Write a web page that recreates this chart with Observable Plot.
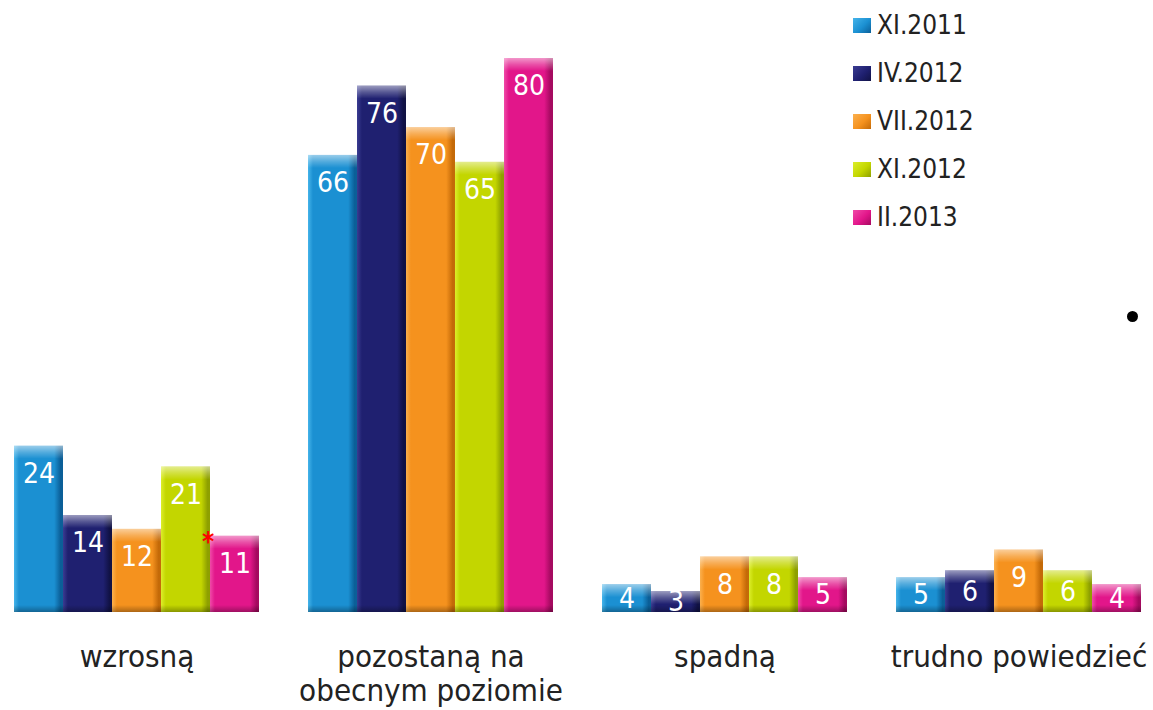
<!DOCTYPE html>
<html><head><meta charset="utf-8">
<script src="https://cdn.jsdelivr.net/npm/d3@7"></script>
<script src="https://cdn.jsdelivr.net/npm/@observablehq/plot@0.6"></script>
<style>
body{margin:0;background:#fff;}
#wrap{position:relative;width:1153px;height:710px;overflow:hidden;font-family:"DejaVu Sans Condensed","DejaVu Sans",sans-serif;}
#legend{position:absolute;left:853px;top:1px;}
.lrow{display:flex;align-items:center;height:48px;font-size:26px;color:#222;}
.lsw{width:18px;height:15px;margin-right:6px;}
#stray{position:absolute;left:1127px;top:311px;width:11px;height:11px;border-radius:50%;background:#000;}
</style></head><body><div id="wrap"></div>
<script>
const categories = ["wzrosną", "pozostaną na obecnym poziomie", "spadną", "trudno powiedzieć"];
const categoryLabels = ["wzrosną", "pozostaną na\nobecnym poziomie", "spadną", "trudno powiedzieć"];
const seriesNames = ["XI.2011", "IV.2012", "VII.2012", "XI.2012", "II.2013"];
const valuesXI2011 = [24, 66, 4, 5];
const valuesIV2012 = [14, 76, 3, 6];
const valuesVII2012 = [12, 70, 8, 9];
const valuesXI2012 = [21, 65, 8, 6];
const valuesII2013 = [11, 80, 5, 4];
const seriesColors = ["#1b90d2", "#1f2070", "#f5921e", "#c3d600", "#e2168a"];
const seriesLight = ["#45b4ea", "#3a3c92", "#fbb04e", "#dcee2a", "#f04aa8"];
const seriesDark = ["#0b5f98", "#111245", "#c46a08", "#8ea000", "#a50a60"];
// significance marker: category, series
const markers = [{category: "wzrosną", series: "II.2013", value: 11}];

const seriesValues = [valuesXI2011, valuesIV2012, valuesVII2012, valuesXI2012, valuesII2013];
const data = [];
seriesNames.forEach((s, si) => categories.forEach((c, ci) => data.push({category: c, series: s, si, value: seriesValues[si][ci]})));

const labelMap = new Map(categories.map((c, i) => [c, categoryLabels[i]]));
const FONT = '"DejaVu Sans Condensed","DejaVu Sans",sans-serif';

const plot = Plot.plot({
  width: 1153,
  height: 710,
  marginLeft: 14,
  marginRight: 12,
  marginTop: 58,
  marginBottom: 98,
  style: {fontFamily: FONT, background: "transparent"},
  fx: {domain: categories, paddingInner: 1/6, paddingOuter: 0, label: null},
  x: {domain: seriesNames, padding: 0, axis: null},
  y: {domain: [0, 80], axis: null},
  marks: [
    ...seriesNames.map((s, si) => Plot.barY(data.filter(d => d.si === si), {
      fx: "category", x: "series", y: "value", fill: `url(#g${si})`
    })),
    // top bevel cap
    Plot.rectY(data, {fx: "category", x: "series", y1: "value", y2: "value", insetBottom: -13, fill: "url(#cap)"}),
    // bottom shade
    Plot.rectY(data, {fx: "category", x: "series", y1: 0, y2: 0, insetTop: -7, fill: "url(#bot)"}),
    Plot.text(data, {
      fx: "category", x: "series", y: d => Math.max(d.value - 4, d.value / 2),
      text: d => String(d.value), fill: "white", fontSize: 28, lineAnchor: "middle", fontFamily: FONT
    }),
    Plot.text(markers, {
      fx: "category", x: "series", y: "value", text: () => "*", fill: "#ff0000",
      fontSize: 26, dx: -27, dy: 6, fontWeight: "bold"
    }),
    Plot.axisFx({
      anchor: "bottom", tickSize: 0, tickPadding: 31, fontSize: 31, lineHeight: 1.08,
      tickFormat: c => labelMap.get(c), fill: "#222", label: null
    })
  ]
});

const ns = "http://www.w3.org/2000/svg";
const defs = document.createElementNS(ns, "defs");
function grad(id, stops, vertical) {
  const g = document.createElementNS(ns, "linearGradient");
  g.setAttribute("id", id);
  g.setAttribute("x1", "0"); g.setAttribute("y1", "0");
  g.setAttribute("x2", vertical ? "0" : "1"); g.setAttribute("y2", vertical ? "1" : "0");
  for (const [o, c, op] of stops) {
    const st = document.createElementNS(ns, "stop");
    st.setAttribute("offset", o); st.setAttribute("stop-color", c);
    if (op != null) st.setAttribute("stop-opacity", op);
    g.appendChild(st);
  }
  defs.appendChild(g);
}
seriesNames.forEach((s, i) => grad(`g${i}`, [
  [0, seriesLight[i]], [0.1, seriesColors[i]], [0.82, seriesColors[i]], [0.95, seriesDark[i]], [1, seriesDark[i]]
]));
grad("cap", [[0, "#ffffff", 0.55], [0.5, "#ffffff", 0.25], [1, "#ffffff", 0]], true);
grad("bot", [[0, "#000000", 0], [1, "#000000", 0.3]], true);
plot.insertBefore(defs, plot.firstChild);

const wrap = document.getElementById("wrap");
wrap.appendChild(plot);

const legend = document.createElement("div");
legend.id = "legend";
seriesNames.forEach((s, i) => {
  const row = document.createElement("div");
  row.className = "lrow";
  const sw = document.createElement("div");
  sw.className = "lsw";
  sw.style.background = `linear-gradient(135deg, ${seriesLight[i]}, ${seriesColors[i]} 55%, ${seriesDark[i]})`;
  const t = document.createElement("span");
  t.textContent = s;
  row.appendChild(sw); row.appendChild(t);
  legend.appendChild(row);
});
wrap.appendChild(legend);
const stray = document.createElement("div");
stray.id = "stray";
wrap.appendChild(stray);
</script>
</body></html>
